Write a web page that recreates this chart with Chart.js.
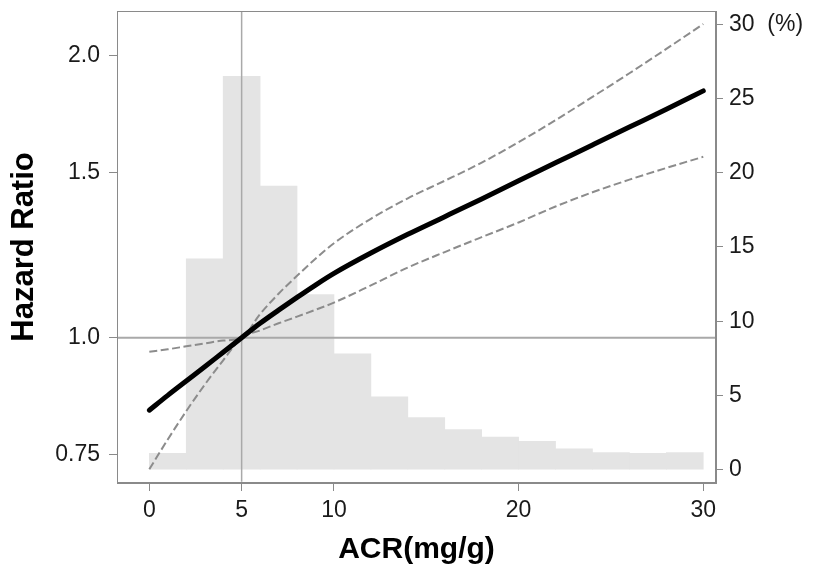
<!DOCTYPE html>
<html>
<head>
<meta charset="utf-8">
<script src="https://cdn.jsdelivr.net/npm/chart.js@4/dist/chart.umd.min.js"></script>
<style>
  body { margin: 0; background: #fff; }
</style>
</head>
<body>
<canvas id="hrChart" width="814" height="570"></canvas>
<script>
// ACR histogram, 2 mg/g bins (percent of participants)
const binCenters = [1, 3, 5, 7, 9, 11, 13, 15, 17, 19, 21, 23, 25, 27, 29];
const binPercent = [1.1, 14.2, 26.5, 19.1, 11.8, 7.8, 4.9, 3.5, 2.7, 2.2, 1.9, 1.4, 1.15, 1.1, 1.15];

// Spline hazard ratio with 95% CI
const acr = [0, 1, 2, 3, 4, 5, 6, 7, 8, 9, 10, 12, 14, 16, 18, 20, 22, 24, 26, 28, 30];
const hr = [0.837, 0.868, 0.899, 0.931, 0.965, 1.0, 1.036, 1.070, 1.104, 1.138, 1.171, 1.231, 1.289, 1.346, 1.406, 1.470, 1.536, 1.605, 1.677, 1.752, 1.833];
const hrUpper = [0.966, 0.972, 0.979, 0.986, 0.993, 1.0, 1.060, 1.114, 1.164, 1.214, 1.261, 1.339, 1.408, 1.470, 1.537, 1.616, 1.706, 1.806, 1.914, 2.032, 2.160];
const hrLower = [0.724, 0.779, 0.835, 0.891, 0.946, 1.0, 1.018, 1.036, 1.053, 1.071, 1.090, 1.137, 1.188, 1.234, 1.280, 1.327, 1.380, 1.429, 1.474, 1.517, 1.559];

// axes
const xTicks = [0, 5, 10, 20, 30];
const hrTicks = [0.75, 1.0, 1.5, 2.0];
const hrTickLabels = ["0.75", "1.0", "1.5", "2.0"];
const pctTicks = [0, 5, 10, 15, 20, 25, 30];
const refACR = 5;
const refHR = 1.0;

const xMin = -1.75, xMax = 30.69;
const hrMin = 0.702, hrMax = 2.23;
const pctMin = -0.9, pctMax = 30.9;

const FONT = "'Liberation Sans', Arial, sans-serif";
const AXIS_GREY = "#8a8a8a";

const toPoints = (xs, ys) => xs.map((x, i) => ({ x: x, y: ys[i] }));

const frameBox = {
  id: "frameBox",
  afterDatasetsDraw(chart) {
    const { ctx, chartArea: a } = chart;
    ctx.save();
    ctx.strokeStyle = AXIS_GREY;
    ctx.lineWidth = 1;
    ctx.strokeRect(a.left + 0.5, a.top + 0.5, a.right - a.left - 1, a.bottom - a.top - 1);
    ctx.restore();
  },
};

function noEdgePadding(s) {
  s.paddingTop = 0;
  s.paddingBottom = 0;
  s.paddingLeft = 0;
  s.paddingRight = 0;
}

new Chart(document.getElementById("hrChart"), {
  type: "line",
  data: {
    datasets: [
      {
        type: "bar",
        data: toPoints(binCenters, binPercent),
        yAxisID: "y2",
        backgroundColor: "#e4e4e4",
        borderWidth: 0,
        barPercentage: 1,
        categoryPercentage: 1,
        order: 10,
      },
      {
        data: [{ x: xMin, y: refHR }, { x: xMax, y: refHR }],
        yAxisID: "y",
        borderColor: "#a9a9a9",
        borderWidth: 2,
        pointRadius: 0,
        order: 6,
      },
      {
        data: [{ x: refACR, y: hrMin }, { x: refACR, y: hrMax }],
        yAxisID: "y",
        borderColor: "#a9a9a9",
        borderWidth: 1.5,
        pointRadius: 0,
        order: 5,
      },
      {
        data: toPoints(acr, hrUpper),
        yAxisID: "y",
        borderColor: "#8c8c8c",
        borderWidth: 2,
        borderDash: [8, 3.5],
        pointRadius: 0,
        cubicInterpolationMode: "monotone",
        order: 3,
      },
      {
        data: toPoints(acr, hrLower),
        yAxisID: "y",
        borderColor: "#8c8c8c",
        borderWidth: 2,
        borderDash: [8, 3.5],
        pointRadius: 0,
        cubicInterpolationMode: "monotone",
        order: 2,
      },
      {
        data: toPoints(acr, hr),
        yAxisID: "y",
        borderColor: "#000",
        borderWidth: 5,
        borderCapStyle: "round",
        pointRadius: 0,
        cubicInterpolationMode: "monotone",
        order: 1,
      },
    ],
  },
  options: {
    responsive: false,
    animation: false,
    layout: { padding: { top: 11 } },
    plugins: {
      legend: { display: false },
      tooltip: { enabled: false },
    },
    scales: {
      x: {
        type: "linear",
        offset: false,
        min: xMin,
        max: xMax,
        afterBuildTicks: (s) => { s.ticks = xTicks.map((v) => ({ value: v })); },
        afterFit: (s) => { s.height = 87; noEdgePadding(s); },
        grid: { offset: false, drawOnChartArea: false, tickLength: 8, tickColor: AXIS_GREY },
        border: { color: AXIS_GREY },
        ticks: { color: "#1a1a1a", font: { family: FONT, size: 23 }, padding: 6, maxRotation: 0 },
        title: {
          display: true,
          text: "ACR(mg/g)",
          color: "#000",
          font: { family: FONT, size: 30, weight: "bold" },
          padding: { bottom: 2 },
        },
      },
      y: {
        type: "logarithmic",
        position: "left",
        min: hrMin,
        max: hrMax,
        afterBuildTicks: (s) => { s.ticks = hrTicks.map((v) => ({ value: v })); },
        afterFit: (s) => { s.width = 117; noEdgePadding(s); },
        grid: { drawOnChartArea: false, tickLength: 8, tickColor: AXIS_GREY },
        border: { color: AXIS_GREY },
        ticks: {
          color: "#1a1a1a",
          font: { family: FONT, size: 23 },
          padding: 9,
          callback: (v) => hrTickLabels[hrTicks.indexOf(v)],
        },
        title: {
          display: true,
          text: "Hazard Ratio",
          color: "#000",
          font: { family: FONT, size: 31, weight: "bold" },
          padding: { top: 6 },
        },
      },
      y2: {
        type: "linear",
        position: "right",
        min: pctMin,
        max: pctMax,
        afterBuildTicks: (s) => { s.ticks = pctTicks.map((v) => ({ value: v })); },
        afterFit: (s) => { s.width = 98; noEdgePadding(s); },
        grid: { drawOnChartArea: false, tickLength: 7, tickColor: AXIS_GREY },
        border: { color: AXIS_GREY },
        ticks: {
          color: "#1a1a1a",
          font: { family: FONT, size: 23 },
          padding: 6,
          callback: (v) => (v === 30 ? "30  (%)" : String(v)),
        },
      },
    },
  },
  plugins: [frameBox],
});
</script>
</body>
</html>
